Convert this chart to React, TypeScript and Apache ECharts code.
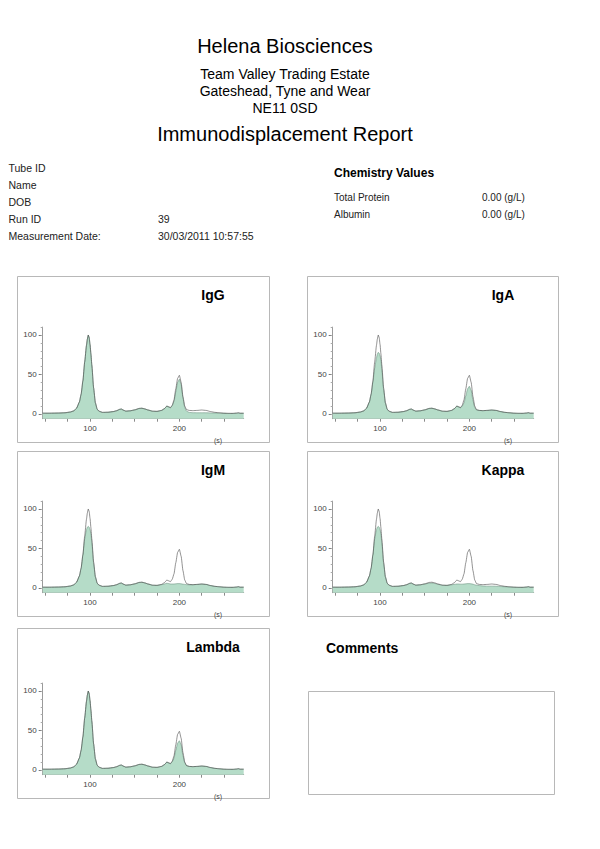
import { useEffect, useRef } from "react";
import * as echarts from "echarts";

const FONT = "'Liberation Sans', Arial, Helvetica, sans-serif";

// report texts
const headerLines = [
  "Helena Biosciences",
  "Team Valley Trading Estate",
  "Gateshead, Tyne and Wear",
  "NE11 0SD",
  "Immunodisplacement Report",
];
const patientLabels = ["Tube ID", "Name", "DOB", "Run ID", "Measurement Date:"];
const patientValues = ["", "", "", "39", "30/03/2011 10:57:55"];
const chemLabels = ["Total Protein", "Albumin"];
const chemValues = ["0.00 (g/L)", "0.00 (g/L)"];

// panels and axes
const panelNames = ["IgG", "IgA", "IgM", "Kappa", "Lambda"];
const xTicks = [50, 75, 100, 125, 150, 175, 200, 225, 250];
const xLabels = [100, 200];
const yLabels = [0, 50, 100];
const yMinorTicks = [0, 10, 20, 30, 40, 50, 60, 70, 80, 90, 100, 110];

// migration time (s)
const seconds = [
  47, 55, 65, 72, 78, 82, 85, 88, 90, 92,
  94, 96, 97, 98, 99, 100, 101, 102, 104, 106,
  108, 110, 114, 120, 126, 130, 133, 135, 137, 140,
  145, 150, 155, 158, 161, 165, 170, 175, 180, 183,
  186, 188, 190, 192, 194, 196, 198, 200, 202, 204,
  206, 208, 211, 215, 220, 225, 230, 235, 240, 245,
  250, 255, 260, 264, 266, 268, 272,
];

// reference trace (outline)
const reference = [
  1, 1, 1.2, 1.5, 2.5, 4, 7.5, 15, 25, 42,
  66, 87, 95, 100, 97, 88, 76, 62, 33, 14,
  6, 3.5, 2, 2.2, 3, 4.2, 5.8, 6.3, 5, 3.6,
  4, 5.2, 7, 7.3, 6.5, 5, 3.5, 3.3, 4.5, 6.5,
  10, 9, 8, 11, 18, 32, 45, 49, 40, 22,
  10, 5.5, 4.5, 4.2, 4.5, 5, 4.5, 3, 2, 1.5,
  1, 0.8, 0.8, 1.2, 1.6, 1, 1,
];

// displaced traces (filled)
const fillIgG = [
  1, 1, 1.2, 1.5, 2.5, 4, 7.5, 15, 25, 42,
  66, 87, 95, 100, 97, 88, 76, 62, 33, 14,
  6, 3.5, 2, 2.2, 3, 4.2, 5.8, 6.3, 5, 3.6,
  4, 5.2, 7, 7.3, 6.5, 5, 3.5, 3.3, 4.5, 6.5,
  10, 9, 8, 10.5, 16, 28, 40, 44, 37, 20,
  8, 3.5, 2, 1.6, 1.5, 1.5, 1.5, 1.3, 1.2, 1,
  0.8, 0.6, 0.6, 0.8, 1, 0.8, 0.8,
];
const fillIgA = [
  1, 1, 1.2, 1.5, 2.5, 4, 7.5, 15, 25, 40,
  58, 71, 76, 78, 77, 74, 68, 56, 31, 14,
  6, 3.5, 2, 2.2, 3, 4.2, 5.8, 6.3, 5, 3.6,
  4, 5.2, 7, 7.3, 6.5, 5, 3.5, 3.3, 4.5, 6.5,
  10, 9, 8, 10, 14, 23, 32, 35, 30, 17,
  8, 5, 4.5, 4.2, 4.5, 5, 4.5, 3, 2, 1.5,
  1, 0.8, 0.8, 1.2, 1.6, 1, 1,
];
const fillIgM = [
  1, 1, 1.2, 1.5, 2.5, 4, 7.5, 15, 25, 42,
  62, 74, 77, 78, 77, 74, 68, 57, 31, 14,
  6, 3.5, 2, 2.2, 3, 4.2, 5.8, 6.3, 5, 3.6,
  4, 5.2, 7, 7.3, 6.5, 5, 3.5, 3.3, 4.2, 5,
  6, 5.5, 5, 5, 5, 5.2, 5.5, 5.5, 5.2, 4.8,
  4.5, 4.2, 4, 4, 4.5, 5, 4.5, 3, 2, 1.5,
  1, 0.8, 0.8, 1.2, 1.6, 1, 1,
];
const fillKappa = [
  1, 1, 1.2, 1.5, 2.5, 4, 7.5, 15, 25, 42,
  62, 74, 77, 78, 77, 74, 68, 57, 31, 14,
  6, 3.5, 2, 2.2, 3, 4.2, 5.8, 6.3, 5, 3.6,
  4, 5, 6, 6.3, 5.8, 4.5, 3.5, 3.3, 4, 4.5,
  5, 5, 4.8, 4.8, 5, 5.2, 5.5, 5.5, 5.2, 4.8,
  4, 3.5, 3, 2.5, 2.3, 2.3, 2.2, 1.8, 1.5, 1.2,
  1, 0.8, 0.8, 1.2, 1.6, 1, 1,
];
const fillLambda = [
  1, 1, 1.2, 1.5, 2.5, 4, 7.5, 15, 25, 42,
  66, 87, 95, 100, 97, 88, 76, 62, 33, 14,
  6, 3.5, 2, 2.2, 3, 4.2, 5.8, 6.3, 5, 3.6,
  4, 5.2, 7, 7.3, 6.5, 5, 3.5, 3.3, 4.5, 6.5,
  10, 9, 8, 10.5, 15, 25, 34, 37, 32, 18,
  9, 5.5, 4.5, 4.2, 4.5, 5, 4.5, 3, 2, 1.5,
  1, 0.8, 0.8, 1.2, 1.6, 1, 1,
];
const fills = [fillIgG, fillIgA, fillIgM, fillKappa, fillLambda];

// panel frames: [left, top, width, height]
const boxes = [
  [17, 276, 252, 166],
  [307, 276, 251, 166],
  [17, 451, 252, 165],
  [307, 451, 251, 165],
  [17, 628, 252, 170],
];

function txt(text: string, x: number, y: number, size: number, opts: any = {}) {
  const align = opts.align || "left";
  return {
    type: "text",
    silent: true,
    style: {
      text,
      x,
      y,
      fontSize: size,
      fontFamily: FONT,
      fontWeight: opts.bold ? "bold" : "normal",
      fill: opts.color || "#111",
      align,
      textAlign: align,
      verticalAlign: "middle",
      textVerticalAlign: "middle",
    },
  };
}

export default function App() {
  const chartRef = useRef<HTMLDivElement>(null);

  useEffect(() => {
    document.body.style.margin = "0";
    if (!chartRef.current) return;
    const chart = echarts.init(chartRef.current, null, { renderer: "svg" });

    const graphics: any[] = [];
    const headerY = [46, 74, 91, 107.5, 134];
    const headerSize = [20, 14, 14, 14, 20];
    headerLines.forEach((t, i) => {
      graphics.push(txt(t, 285, headerY[i], headerSize[i], { align: "center", color: "#000" }));
    });
    patientLabels.forEach((t, i) => {
      graphics.push(txt(t, 8.5, 168 + i * 17, 10.5, { color: "#222" }));
      if (patientValues[i]) graphics.push(txt(patientValues[i], 158, 168 + i * 17, 10.5, { color: "#222" }));
    });
    graphics.push(txt("Chemistry Values", 334, 173, 12, { bold: true, color: "#000" }));
    chemLabels.forEach((t, i) => {
      graphics.push(txt(t, 334, 197 + i * 17, 10, { color: "#222" }));
      graphics.push(txt(chemValues[i], 482, 197 + i * 17, 10, { color: "#222" }));
    });

    boxes.forEach(([bx, by, bw, bh], i) => {
      graphics.push({
        type: "rect",
        silent: true,
        shape: { x: bx + 0.5, y: by + 0.5, width: bw, height: bh },
        style: { fill: "none", stroke: "#b8b8b8", lineWidth: 1 },
      });
      graphics.push(txt(panelNames[i], bx + 196, by + 19, 14, { bold: true, align: "center", color: "#000" }));
      graphics.push(txt("(s)", bx + 201, by + bh - 2, 7, { align: "center", color: "#444" }));
    });

    graphics.push(txt("Comments", 326, 648, 14, { bold: true, color: "#000" }));
    graphics.push({
      type: "rect",
      silent: true,
      shape: { x: 308.5, y: 691.5, width: 246, height: 103 },
      style: { fill: "none", stroke: "#b8b8b8", lineWidth: 1 },
    });

    const grid = boxes.map(([bx, by, , bh]) => ({
      left: bx + 25.7,
      top: by + bh - 114.9,
      width: 201,
      height: 91.6,
    }));

    const xAxis = boxes.map((_, i) => ({
      type: "value",
      gridIndex: i,
      min: 47,
      max: 272,
      axisLine: { show: true, onZero: false, lineStyle: { color: "#9a9a9a", width: 1 } },
      axisTick: { show: true, customValues: xTicks, length: 3, lineStyle: { color: "#8a8a8a" } },
      axisLabel: { customValues: xLabels, fontSize: 8, color: "#444", margin: 6, fontFamily: FONT },
      splitLine: { show: false },
    }));

    const yAxis = boxes.flatMap((_, i) => [
      {
        type: "value",
        gridIndex: i,
        min: -6,
        max: 110,
        position: "left",
        axisLine: { show: true, onZero: false, lineStyle: { color: "#9a9a9a", width: 1 } },
        axisTick: { show: true, customValues: yLabels, length: 4, lineStyle: { color: "#777" } },
        axisLabel: { customValues: yLabels, fontSize: 8, color: "#444", margin: 6, fontFamily: FONT },
        splitLine: { show: false },
      },
      {
        type: "value",
        gridIndex: i,
        min: -6,
        max: 110,
        position: "left",
        axisLine: { show: false, onZero: false },
        axisTick: { show: true, customValues: yMinorTicks, length: 2, lineStyle: { color: "#aaa" } },
        axisLabel: { show: false },
        splitLine: { show: false },
      },
    ]);

    const series = boxes.flatMap((_, i) => [
      {
        type: "line",
        xAxisIndex: i,
        yAxisIndex: 2 * i,
        data: seconds.map((s, k) => [s, fills[i][k]]),
        symbol: "none",
        smooth: 0.15,
        smoothMonotone: "x",
        silent: true,
        lineStyle: { color: "#6f9383", width: 0.6 },
        areaStyle: { color: "#b5dcc8", opacity: 1, origin: "start" },
        z: 2,
      },
      {
        type: "line",
        xAxisIndex: i,
        yAxisIndex: 2 * i,
        data: seconds.map((s, k) => [s, reference[k]]),
        symbol: "none",
        smooth: 0.15,
        smoothMonotone: "x",
        silent: true,
        lineStyle: { color: "#4a4a4a", width: 0.6 },
        z: 3,
      },
    ]);

    chart.setOption({
      animation: false,
      backgroundColor: "#fff",
      grid,
      xAxis,
      yAxis,
      series,
      graphic: { elements: graphics },
    });

    return () => {
      chart.dispose();
    };
  }, []);

  return <div ref={chartRef} style={{ width: 600, height: 849 }} />;
}
